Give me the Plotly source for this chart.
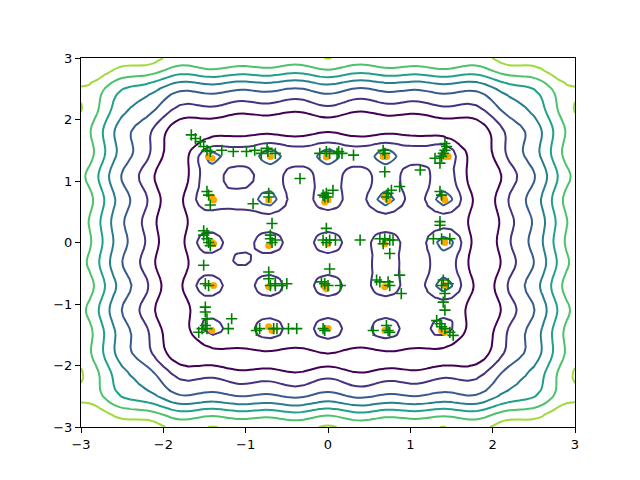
import numpy as np
import plotly.graph_objects as go

# ---- data ----
# lattice of optimum basins (cluster centres)
cluster_x = [-1.45, -0.72, 0.0, 0.70, 1.42]
cluster_y = [-1.40, -0.70, 0.0, 0.70, 1.42]
# clusters that carry an extra inner contour ring
strong_x = [-1.42, -0.70, 0.0, 0.70, 0.70, 1.40, 1.42, 1.40, -0.72, 1.42]
strong_y = [1.40, 1.40, 1.40, 1.40, 0.70, 0.70, 0.0, -0.70, 0.70, 1.52]
# ridges joining neighbouring basins into one contour
ridge_x = [-1.08, -0.36, 0.35, 1.06, -1.45, -1.08, -0.72, 0.0, 0.71, 1.41, 0.70, 1.41]
ridge_y = [1.42, 1.42, 1.42, 1.45, 1.05, 0.70, 1.05, 1.05, 1.05, 1.05, -0.35, -0.35]
# isolated blob without particles
blob_x = [-1.05]
blob_y = [-0.28]

# contour level index as a function of the (rounded-square) radius
radius_knots = [0.0, 1.55, 1.76, 1.95, 2.10, 2.28, 2.44, 2.60, 2.75, 2.90, 3.07, 3.40]
level_knots = [0.5, 0.5, 0.0, -0.6, 0.0, 1.0, 2.0, 3.0, 4.0, 5.0, 6.0, 6.6]
contour_levels = [0, 1, 2, 3, 4, 5, 6]
level_colors = ["#440154", "#46327e", "#375b8d", "#277f8e",
                "#1fa187", "#4cc26c", "#a0da38"]

green_x = [-1.66, -1.61, -1.55, -1.51, -1.47, -1.43, -1.29, -1.15, -0.99, -0.89, -0.81, -0.74,
           -0.73, -0.64, -1.47, -1.45, -1.43, -0.72, -0.72, -0.91, -0.68, -1.51, -1.47, -0.70,
           -0.10, -0.02, 0.02, 0.11, 0.13, 0.17, 0.31, -0.34, 0.06, -0.06, -0.02, -0.04, 0.0, -0.02,
           0.67, 0.69, 1.42, 1.44, 1.42, 1.40, 1.38, 1.30, 1.36, 0.69, 1.12, 0.87, 0.77, 0.73,
           0.71, 1.36, 1.38, 1.36, 1.36,
           -1.51, -1.47, -1.45, -1.43, -0.70, -0.68, -1.51, -1.49, -1.45, -0.72, -0.72, -0.70,
           -0.64, -1.49, -1.49, -1.47, -1.49, -1.53, -1.57, -1.47, -1.17, -1.21, -0.83, -0.87, -0.66,
           -0.06, -0.02, 0.02, 0.09, 0.39, -0.64, 0.02, -0.08, -0.04, 0.0, 0.15, -0.56, -0.50,
           -0.64, -0.48, -0.38, -0.06, -0.04, -0.62,
           0.63, 0.69, 0.75, 0.79, 0.67, 0.75, 1.28, 1.38, 1.48, 0.87, 0.59, 0.63, 0.73, 0.75,
           0.89, 1.40, 1.46, 1.38, 1.42, 1.40, 1.42, 1.32, 1.36, 1.38, 1.42, 1.48, 1.52, 0.55,
           0.71, 0.73, 0.75]
green_y = [1.75, 1.69, 1.64, 1.56, 1.50, 1.48, 1.50, 1.48, 1.48, 1.50, 1.45, 1.53,
           1.48, 1.45, 0.83, 0.77, 0.61, 0.80, 0.74, 0.63, 0.31, 0.19, 0.15, 0.12,
           1.45, 1.48, 1.45, 1.45, 1.48, 1.45, 1.42, 1.04, 0.85, 0.77, 0.80, 0.74, 0.74, 0.23,
           1.50, 1.45, 1.61, 1.56, 1.50, 1.45, 1.40, 1.37, 1.29, 1.15, 1.18, 0.91, 0.85, 0.80,
           0.74, 0.83, 0.77, 0.34, 0.28,
           0.12, 0.06, 0.0, -0.05, 0.06, 0.0, -0.37, -0.67, -0.70, -0.48, -0.59, -0.70,
           -0.70, -1.05, -1.13, -1.24, -1.35, -1.40, -1.46, -1.40, -1.24, -1.40, -1.40, -1.43, -1.40,
           0.04, 0.0, 0.04, 0.04, 0.04, 0.04, -0.43, -0.64, -0.67, -0.70, -0.70, -0.70, -0.67,
           -0.67, -1.40, -1.40, -1.40, -1.43, -1.40,
           0.06, 0.06, 0.04, 0.04, -0.02, -0.18, 0.06, 0.06, 0.06, -0.53, -0.61, -0.64, -0.64, -0.70,
           -0.83, -0.61, -0.67, -0.70, -0.83, -0.97, -1.10, -1.27, -1.32, -1.37, -1.40, -1.46, -1.51, -1.43,
           -1.35, -1.43, -1.46]

orange_x = [-1.45, -1.41, -0.70, -1.41, -1.39, -0.72, -0.02, -0.04, 0.0, 0.67, 0.71, 1.42, 1.46,
            0.69, 0.73, 1.40, 1.42, -1.41, -1.39, -0.72, -1.39, -0.72, -1.41, -0.72, -0.68,
            -0.04, -0.02, 0.0, 0.69, 1.42, 0.69, 1.42, 1.38, 1.42, 0.69, 0.0]
orange_y = [1.40, 1.37, 1.40, 0.74, 0.69, 0.69, 1.39, 0.66, 0.69, 1.40, 1.40, 1.40, 1.40,
            0.74, 0.69, 0.74, 0.69, 0.0, -0.02, -0.05, -0.70, -0.72, -1.43, -1.37, -1.43,
            -0.72, -0.75, -1.40, -0.02, 0.0, -0.72, -0.70, -1.43, -1.46, -1.43, -0.02]

# ---- surface built from the values above ----
grid = np.linspace(-3, 3, 61)
X, Y = np.meshgrid(grid, grid)
R = (np.abs(X) ** 6 + np.abs(Y) ** 6) ** (1 / 6)
Z = np.interp(R, radius_knots, level_knots)


def gauss(cx, cy, s):
    return np.exp(-((X - cx) ** 2 + (Y - cy) ** 2) / (2 * s ** 2))


env_in = np.interp(R, [0.0, 1.6, 1.8], [1.0, 1.0, 0.0])
bumps = np.zeros_like(Z)
for cx in cluster_x:
    for cy in cluster_y:
        bumps += 0.95 * gauss(cx, cy, 0.15)
for cx, cy in zip(strong_x, strong_y):
    bumps += 1.0 * gauss(cx, cy, 0.12)
for cx, cy in zip(ridge_x, ridge_y):
    bumps += 0.8 * gauss(cx, cy, 0.15)
for cx, cy in zip(blob_x, blob_y):
    bumps += 0.7 * gauss(cx, cy, 0.12)
Z = Z + env_in * bumps

period = float(np.mean(np.diff(cluster_x)))
env_out = np.interp(R, [1.5, 1.8, 2.3, 4.5], [0.0, 0.6, 1.0, 1.0])
wave = (0.2 * (np.cos(2 * np.pi * X / period) + np.cos(2 * np.pi * Y / period))
        + 0.12 * (np.sin(2 * np.pi * (X + 0.3) / (1.6 * period))
                  + np.sin(2 * np.pi * (Y - 0.2) / (1.6 * period))))
Z = Z + env_out * wave

colorscale = [[i / (len(level_colors) - 1), c] for i, c in enumerate(level_colors)]

fig = go.Figure()
fig.add_trace(go.Contour(
    x=grid, y=grid, z=Z,
    contours=dict(start=contour_levels[0], end=contour_levels[-1], size=1, coloring="lines"),
    colorscale=colorscale, showscale=False,
    line=dict(width=2, smoothing=0.3),
    hoverinfo="skip",
))
fig.add_trace(go.Scatter(
    x=orange_x, y=orange_y, mode="markers",
    marker=dict(symbol="circle", size=7, color="orange"),
    showlegend=False,
))
fig.add_trace(go.Scatter(
    x=green_x, y=green_y, mode="markers",
    marker=dict(symbol="cross-thin", size=8, color="green", line=dict(color="green", width=1.6)),
    showlegend=False,
))

axis_common = dict(
    range=[-3, 3], tickmode="array", tickvals=[-3, -2, -1, 0, 1, 2, 3],
    showgrid=False, zeroline=False, showline=True, linecolor="black", linewidth=1,
    mirror=True, ticks="outside", ticklen=5, tickcolor="black",
    tickfont=dict(family="DejaVu Sans", size=13, color="black"),
)
fig.update_xaxes(**axis_common)
fig.update_yaxes(**axis_common)
fig.update_layout(
    width=632, height=472,
    margin=dict(l=73, r=65, t=50, b=53),
    plot_bgcolor="white", paper_bgcolor="white",
    showlegend=False,
)
fig.write_html("out.html")
